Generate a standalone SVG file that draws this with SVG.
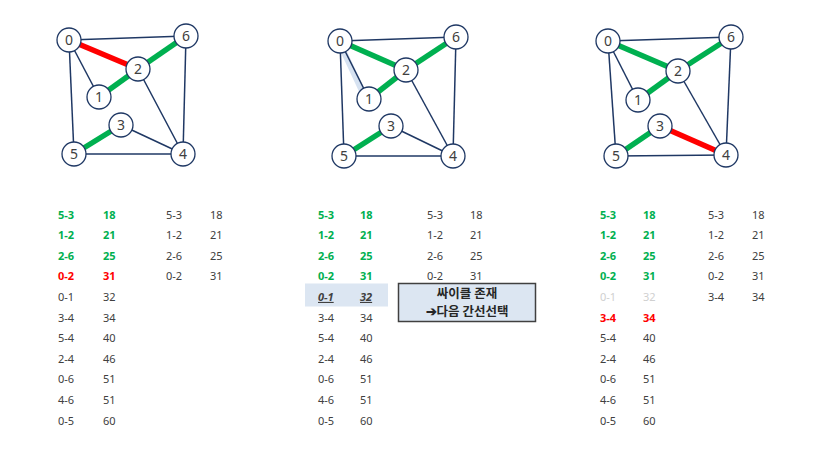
<svg xmlns="http://www.w3.org/2000/svg" width="816" height="453" viewBox="0 0 816 453">
<style>
.e{stroke:#1F3864;stroke-width:1.5;fill:none}
.g{stroke:#00B050;stroke-width:5.5;stroke-linecap:butt}
.r{stroke:#FF0000;stroke-width:5.5;stroke-linecap:butt}
.sh{stroke:#C6D6EC;stroke-width:6;stroke-linecap:round;opacity:0.7}
.n circle{fill:#fff;stroke:#1F3864;stroke-width:1.3}
.n text{font-family:"Noto Sans","Open Sans",sans-serif;font-size:14px;fill:#404040;text-anchor:middle}
.t{font-family:"Noto Sans","Open Sans",sans-serif;font-size:11px;fill:#404040}
.tg{fill:#00B050;font-weight:bold}
.tr{fill:#FF0000;font-weight:bold}
.tf{fill:#D0D0D0}
.tu{font-weight:bold;font-style:italic;text-decoration:underline}
.bx{font-family:"Noto Sans CJK KR","Noto Sans",sans-serif;font-size:12.5px;font-weight:bold;fill:#262626;text-anchor:middle}
</style>
<rect width="816" height="453" fill="#fff"/>
<g id="connectors">
<!-- graph 1 -->
<line class="e" x1="69" y1="40" x2="186" y2="36"/>
<line class="e" x1="69" y1="40" x2="99" y2="97"/>
<line class="e" x1="69" y1="40" x2="74" y2="154"/>
<line class="e" x1="138" y1="69" x2="183" y2="154"/>
<line class="e" x1="121" y1="125" x2="183" y2="154"/>
<line class="e" x1="74" y1="154" x2="183" y2="154"/>
<line class="e" x1="186" y1="36" x2="183" y2="154"/>
<line class="r" x1="69" y1="40" x2="138" y2="69"/>
<line class="g" x1="99" y1="97" x2="138" y2="69"/>
<line class="g" x1="138" y1="69" x2="186" y2="36"/>
<line class="g" x1="121" y1="125" x2="74" y2="154"/>
<!-- graph 2 -->
<line class="sh" x1="343" y1="50" x2="363" y2="93"/>
<line class="e" x1="340" y1="41" x2="456" y2="37"/>
<line class="e" x1="340" y1="41" x2="369" y2="99"/>
<line class="e" x1="340" y1="41" x2="344" y2="156"/>
<line class="e" x1="406" y1="70" x2="453" y2="156"/>
<line class="e" x1="391" y1="126" x2="453" y2="156"/>
<line class="e" x1="344" y1="156" x2="453" y2="156"/>
<line class="e" x1="456" y1="37" x2="453" y2="156"/>
<line class="g" x1="340" y1="41" x2="406" y2="70"/>
<line class="g" x1="369" y1="99" x2="406" y2="70"/>
<line class="g" x1="406" y1="70" x2="456" y2="37"/>
<line class="g" x1="391" y1="126" x2="344" y2="156"/>
<!-- graph 3 -->
<line class="e" x1="608" y1="41" x2="731" y2="37"/>
<line class="e" x1="608" y1="41" x2="638" y2="100"/>
<line class="e" x1="608" y1="41" x2="616" y2="156"/>
<line class="e" x1="678" y1="71" x2="726" y2="155"/>
<line class="e" x1="616" y1="156" x2="726" y2="155"/>
<line class="e" x1="731" y1="37" x2="726" y2="155"/>
<line class="g" x1="608" y1="41" x2="678" y2="71"/>
<line class="g" x1="638" y1="100" x2="678" y2="71"/>
<line class="g" x1="678" y1="71" x2="731" y2="37"/>
<line class="g" x1="660" y1="126" x2="616" y2="156"/>
<line class="r" x1="660" y1="126" x2="726" y2="155"/>
</g>
<g id="g1-n0" class="n"><circle cx="69" cy="40" r="12"/><text x="69" y="45">0</text></g>
<g id="g1-n6" class="n"><circle cx="186" cy="36" r="12"/><text x="186" y="41">6</text></g>
<g id="g1-n2" class="n"><circle cx="138" cy="69" r="12"/><text x="138" y="74">2</text></g>
<g id="g1-n1" class="n"><circle cx="99" cy="97" r="12"/><text x="99" y="102">1</text></g>
<g id="g1-n3" class="n"><circle cx="121" cy="125" r="12"/><text x="121" y="130">3</text></g>
<g id="g1-n5" class="n"><circle cx="74" cy="154" r="12"/><text x="74" y="159">5</text></g>
<g id="g1-n4" class="n"><circle cx="183" cy="154" r="12"/><text x="183" y="159">4</text></g>

<g id="g2-n0" class="n"><circle cx="340" cy="41" r="12"/><text x="340" y="46">0</text></g>
<g id="g2-n6" class="n"><circle cx="456" cy="37" r="12"/><text x="456" y="42">6</text></g>
<g id="g2-n2" class="n"><circle cx="406" cy="70" r="12"/><text x="406" y="75">2</text></g>
<g id="g2-n1" class="n"><circle cx="369" cy="99" r="12"/><text x="369" y="104">1</text></g>
<g id="g2-n3" class="n"><circle cx="391" cy="126" r="12"/><text x="391" y="131">3</text></g>
<g id="g2-n5" class="n"><circle cx="344" cy="156" r="12"/><text x="344" y="161">5</text></g>
<g id="g2-n4" class="n"><circle cx="453" cy="156" r="12"/><text x="453" y="161">4</text></g>

<g id="g3-n0" class="n"><circle cx="608" cy="41" r="12"/><text x="608" y="46">0</text></g>
<g id="g3-n6" class="n"><circle cx="731" cy="37" r="12"/><text x="731" y="42">6</text></g>
<g id="g3-n2" class="n"><circle cx="678" cy="71" r="12"/><text x="678" y="76">2</text></g>
<g id="g3-n1" class="n"><circle cx="638" cy="100" r="12"/><text x="638" y="105">1</text></g>
<g id="g3-n3" class="n"><circle cx="660" cy="126" r="12"/><text x="660" y="131">3</text></g>
<g id="g3-n5" class="n"><circle cx="616" cy="156" r="12"/><text x="616" y="161">5</text></g>
<g id="g3-n4" class="n"><circle cx="726" cy="155" r="12"/><text x="726" y="160">4</text></g>

<g id="table1" class="t">
<text x="58" y="218.5" class="tg">5-3</text><text x="103" y="218.5" class="tg">18</text>
<text x="58" y="239.1" class="tg">1-2</text><text x="103" y="239.1" class="tg">21</text>
<text x="58" y="259.7" class="tg">2-6</text><text x="103" y="259.7" class="tg">25</text>
<text x="58" y="280.3" class="tr">0-2</text><text x="103" y="280.3" class="tr">31</text>
<text x="58" y="300.9">0-1</text><text x="103" y="300.9">32</text>
<text x="58" y="321.5">3-4</text><text x="103" y="321.5">34</text>
<text x="58" y="342.1">5-4</text><text x="103" y="342.1">40</text>
<text x="58" y="362.7">2-4</text><text x="103" y="362.7">46</text>
<text x="58" y="383.3">0-6</text><text x="103" y="383.3">51</text>
<text x="58" y="403.9">4-6</text><text x="103" y="403.9">51</text>
<text x="58" y="424.5">0-5</text><text x="103" y="424.5">60</text>
<text x="166" y="218.5">5-3</text><text x="210" y="218.5">18</text>
<text x="166" y="239.1">1-2</text><text x="210" y="239.1">21</text>
<text x="166" y="259.7">2-6</text><text x="210" y="259.7">25</text>
<text x="166" y="280.3">0-2</text><text x="210" y="280.3">31</text>
</g>
<g id="table2" class="t">
<rect x="305" y="283.5" width="83" height="23" fill="#DCE6F2"/>
<text x="318" y="218.5" class="tg">5-3</text><text x="360" y="218.5" class="tg">18</text>
<text x="318" y="239.1" class="tg">1-2</text><text x="360" y="239.1" class="tg">21</text>
<text x="318" y="259.7" class="tg">2-6</text><text x="360" y="259.7" class="tg">25</text>
<text x="318" y="280.3" class="tg">0-2</text><text x="360" y="280.3" class="tg">31</text>
<text x="318" y="300.9" class="tu">0-1</text><text x="360" y="300.9" class="tu">32</text>
<text x="318" y="321.5">3-4</text><text x="360" y="321.5">34</text>
<text x="318" y="342.1">5-4</text><text x="360" y="342.1">40</text>
<text x="318" y="362.7">2-4</text><text x="360" y="362.7">46</text>
<text x="318" y="383.3">0-6</text><text x="360" y="383.3">51</text>
<text x="318" y="403.9">4-6</text><text x="360" y="403.9">51</text>
<text x="318" y="424.5">0-5</text><text x="360" y="424.5">60</text>
<text x="427" y="218.5">5-3</text><text x="470" y="218.5">18</text>
<text x="427" y="239.1">1-2</text><text x="470" y="239.1">21</text>
<text x="427" y="259.7">2-6</text><text x="470" y="259.7">25</text>
<text x="427" y="280.3">0-2</text><text x="470" y="280.3">31</text>
</g>
<g id="cycle-note">
<rect x="398.5" y="283.5" width="137" height="38" fill="#DCE6F2" stroke="#404040" stroke-width="1.5"/>
<text class="bx" x="467" y="298">싸이클 존재</text>
<text class="bx" x="467" y="316">➔다음 간선선택</text>
</g>
<g id="table3" class="t">
<text x="600" y="218.5" class="tg">5-3</text><text x="643" y="218.5" class="tg">18</text>
<text x="600" y="239.1" class="tg">1-2</text><text x="643" y="239.1" class="tg">21</text>
<text x="600" y="259.7" class="tg">2-6</text><text x="643" y="259.7" class="tg">25</text>
<text x="600" y="280.3" class="tg">0-2</text><text x="643" y="280.3" class="tg">31</text>
<text x="600" y="300.9" class="tf">0-1</text><text x="643" y="300.9" class="tf">32</text>
<text x="600" y="321.5" class="tr">3-4</text><text x="643" y="321.5" class="tr">34</text>
<text x="600" y="342.1">5-4</text><text x="643" y="342.1">40</text>
<text x="600" y="362.7">2-4</text><text x="643" y="362.7">46</text>
<text x="600" y="383.3">0-6</text><text x="643" y="383.3">51</text>
<text x="600" y="403.9">4-6</text><text x="643" y="403.9">51</text>
<text x="600" y="424.5">0-5</text><text x="643" y="424.5">60</text>
<text x="708" y="218.5">5-3</text><text x="752" y="218.5">18</text>
<text x="708" y="239.1">1-2</text><text x="752" y="239.1">21</text>
<text x="708" y="259.7">2-6</text><text x="752" y="259.7">25</text>
<text x="708" y="280.3">0-2</text><text x="752" y="280.3">31</text>
<text x="708" y="300.9">3-4</text><text x="752" y="300.9">34</text>
</g>
</svg>
